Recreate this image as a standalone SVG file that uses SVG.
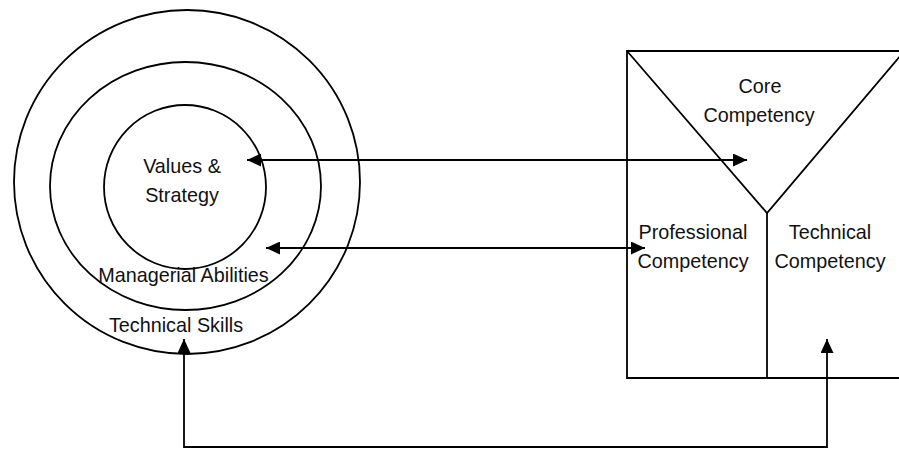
<svg xmlns="http://www.w3.org/2000/svg" width="899" height="449" viewBox="0 0 899 449">
<style>
.s{fill:none;stroke:#000;stroke-width:1.8}
.t{font-family:"Liberation Sans",Arial,sans-serif;font-size:19.8px;fill:#111;text-anchor:middle}
</style>
<defs>
<marker id="ah" viewBox="0 0 14 13" refX="14" refY="6.5" markerWidth="14" markerHeight="13" markerUnits="userSpaceOnUse" orient="auto-start-reverse">
<path d="M0,0 L14,6.5 L0,13 Z" fill="#000"/>
</marker>
</defs>
<rect width="899" height="449" fill="#fff"/>
<g id="outer-circle"><ellipse class="s" cx="187" cy="182" rx="173" ry="172"/><text class="t" x="176" y="332">Technical Skills</text></g>
<g id="middle-circle"><ellipse class="s" cx="185.5" cy="186" rx="135.5" ry="124"/><text class="t" x="183.5" y="282">Managerial Abilities</text></g>
<g id="inner-circle"><ellipse class="s" cx="185" cy="187" rx="81" ry="82"/><text class="t" x="182" y="173">Values &amp;</text><text class="t" x="182" y="202">Strategy</text></g>
<g id="competency-box">
<path class="s" d="M900,51 L627,51 L627,378 L900,378"/>
<path class="s" d="M627,51 L767,213 L901,55"/>
<path class="s" d="M767,213 L767,378"/>
</g>
<g id="core"><text class="t" x="760" y="93">Core</text><text class="t" x="759" y="122">Competency</text></g>
<g id="professional"><text class="t" x="693" y="239">Professional</text><text class="t" x="693" y="268">Competency</text></g>
<g id="technical"><text class="t" x="830" y="239">Technical</text><text class="t" x="830" y="268">Competency</text></g>
<g id="connectors">
<path class="s" d="M247,160 L747,160" marker-start="url(#ah)" marker-end="url(#ah)"/>
<path class="s" d="M266,248 L645,248" marker-start="url(#ah)" marker-end="url(#ah)"/>
<path class="s" d="M184,339 L184,447 L827,447 L827,339" marker-start="url(#ah)" marker-end="url(#ah)"/>
</g>
</svg>
